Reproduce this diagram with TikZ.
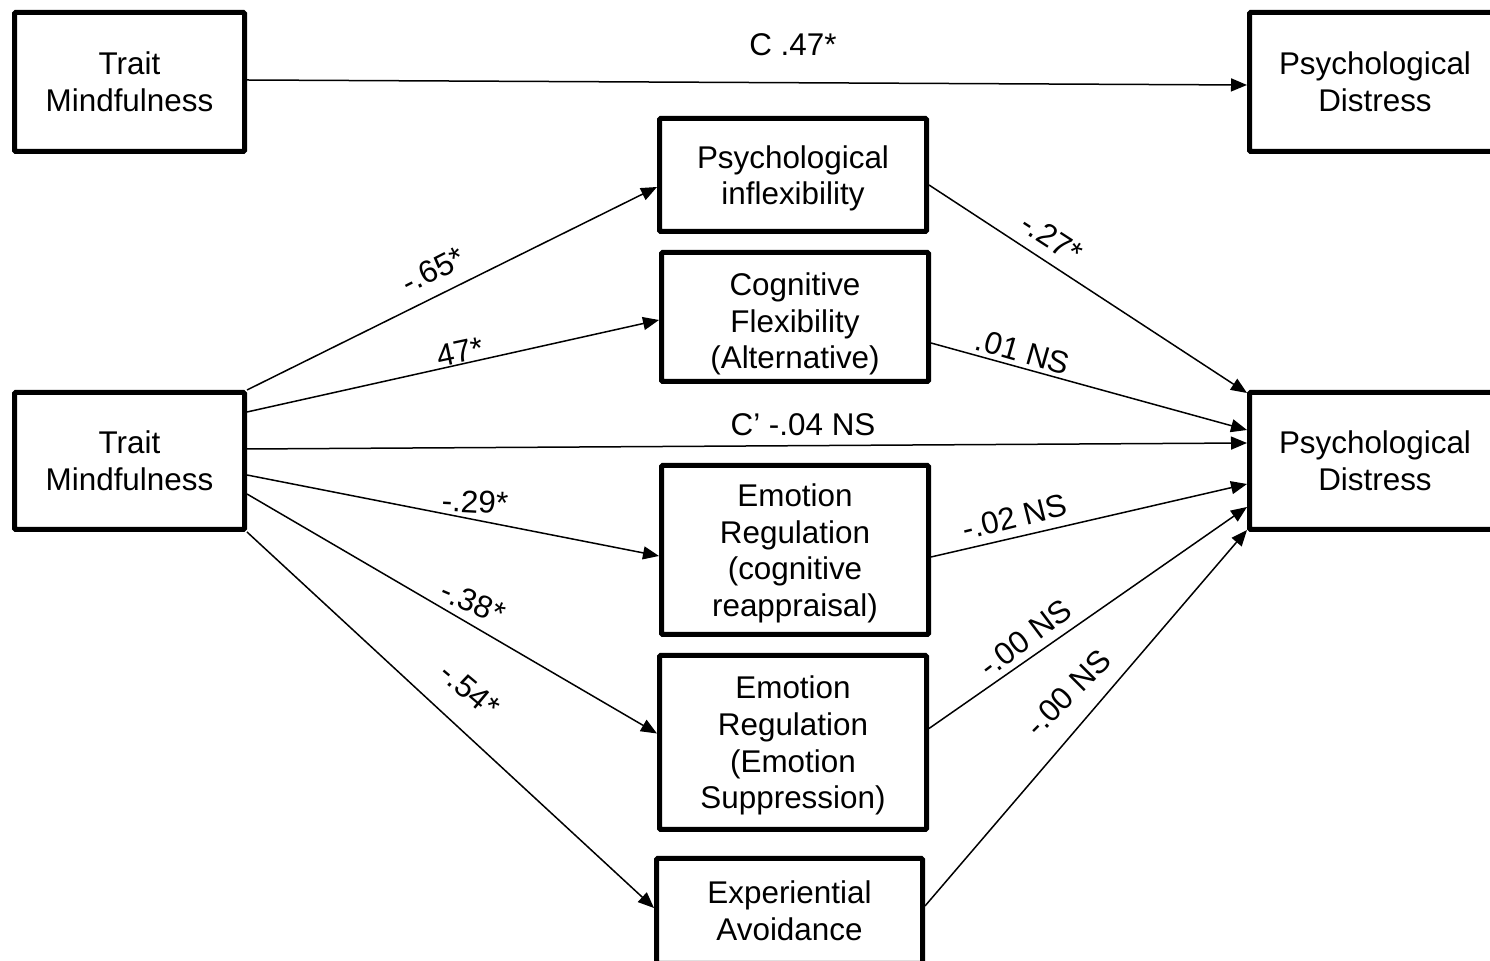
\documentclass[tikz,border=0pt]{standalone}
\usepackage{fontspec}
\setmainfont{Liberation Sans}
\usetikzlibrary{arrows.meta,calc}

\begin{document}
\begin{tikzpicture}[x=0.5pt, y=-0.5pt,
  every node/.style={font=\fontsize{15.7}{18.3}\selectfont},
  box/.style={draw, rectangle, line width=2.5pt, align=center, inner sep=0pt, rounded corners=0.6pt},
  link/.style={line width=0.75pt, -{Triangle[length=8pt,width=6.5pt]}},
  coef/.style={inner sep=1pt}]
  \useasboundingbox (0,0) rectangle (1490,961);

  % total effect
  \node[box, minimum width=115pt, minimum height=69.5pt] (tm1) at (129.5,82) {Trait\\Mindfulness};
  \node[box, minimum width=125.5pt, minimum height=69.5pt] (pd1) at (1375,82) {Psychological\\Distress};
  \draw[link] ($(tm1.east)+(0,-2)$) -- ($(pd1.west)+(0,3)$);
  \node (c) at (793,45) {C .47*};

  % mediators
  \node[box, minimum width=115pt, minimum height=68.5pt] (tm2) at (129.5,461) {Trait\\Mindfulness};
  \node[box, minimum width=125.5pt, minimum height=68.5pt] (pd2) at (1375,461) {Psychological\\Distress};
  \node[box, text depth=0pt, minimum width=133.5pt, minimum height=56.5pt] (pi) at (793,175) {Psychological\\inflexibility};
  \node[box, text height=52pt, text depth=0pt, minimum width=133.5pt, minimum height=64.5pt] (cf) at (795,317) {Cognitive\\Flexibility\\(Alternative)};
  \node[box, text depth=0pt, minimum width=133.5pt, minimum height=84.5pt] (er1) at (795,550) {Emotion\\Regulation\\(cognitive\\reappraisal)};
  \node[box, text depth=0pt, minimum width=133.5pt, minimum height=87pt] (er2) at (793,742.5) {Emotion\\Regulation\\(Emotion\\Suppression)};
  \node[box, minimum width=133pt, minimum height=52.5pt] (ea) at (789.5,911) {Experiential\\Avoidance};

  \draw[link] (tm2.north east) -- ($(pi.west)+(0,12)$);
  \draw[link] ($(tm2.east)+(0,-49)$) -- ($(cf.west)+(0,3)$);
  \draw[link] ($(tm2.east)+(0,-12)$) -- ($(pd2.west)+(0,-18)$);
  \draw[link] ($(tm2.east)+(0,14)$) -- ($(er1.west)+(0,6)$);
  \draw[link] ($(tm2.east)+(0,33)$) -- ($(er2.west)+(0,-9)$);
  \draw[link] (tm2.south east) -- ($(ea.west)+(0,-3)$);

  \draw[link] ($(pi.east)+(0,10)$) -- ($(pd2.north west)+(0,3)$);
  \draw[link] ($(cf.east)+(0,26)$) -- ($(pd2.west)+(0,-31)$);
  \draw[link] ($(er1.east)+(0,7)$) -- ($(pd2.west)+(0,23)$);
  \draw[link] ($(er2.east)+(0,-14)$) -- ($(pd2.west)+(0,46)$);
  \draw[link] ($(ea.east)+(0,-5)$) -- ($(pd2.south west)+(0,-2)$);

  % coefficients
  \node[coef, rotate=27] (a1) at (433,270) {-.65*};
  \node[coef, rotate=12] (a2) at (460,352) {47*};
  \node[coef] (cp) at (803,425) {C’ -.04 NS};
  \node[coef, rotate=-3] (a3) at (475,502) {-.29*};
  \node[coef, rotate=-23] (a4) at (473,602) {-.38*};
  \node[coef, rotate=-40] (a5) at (470,690) {-.54*};
  \node[coef, rotate=-33] (b1) at (1052,238) {-.27*};
  \node[coef, rotate=-16] (b2) at (1023,352) {.01 NS};
  \node[coef, rotate=14] (b3) at (1015,517) {-.02 NS};
  \node[coef, rotate=37] (b4) at (1025,638) {-.00 NS};
  \node[coef, rotate=45] (b5) at (1068,693) {-.00 NS};
\end{tikzpicture}
\end{document}
